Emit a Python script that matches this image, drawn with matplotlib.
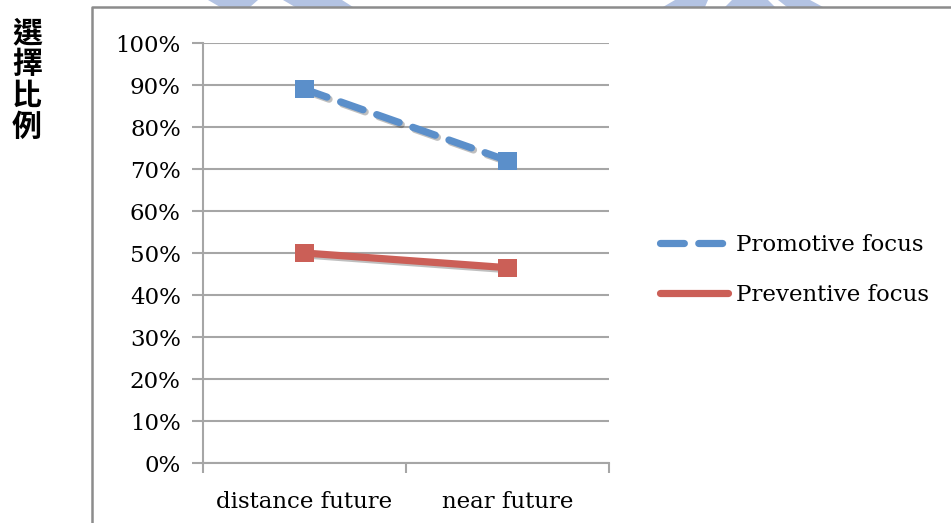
"""Choice ratio by temporal distance, promotive vs preventive focus."""

import matplotlib

matplotlib.use("Agg")
import matplotlib.pyplot as plt
from matplotlib.lines import Line2D
from matplotlib.patches import Polygon
import matplotlib.patheffects as pe

categories = ["distance future", "near future"]
promotive = [0.89, 0.72]
preventive = [0.50, 0.465]
series_labels = ["Promotive focus", "Preventive focus"]
y_ticks = [i / 10 for i in range(11)]
y_label = "選\n擇\n比\n例"

BLUE = "#5b8fca"
RED = "#cb5f57"
GRID = "#a6a6a6"
SERIF = ["DejaVu Serif"]

fig = plt.figure(figsize=(9.51, 5.23), dpi=100)
W, H = 951, 523

# faint watermark slivers at the very top edge
for pts in [
    [(208, 0), (258, 0), (250, 7), (220, 7)],
    [(283, 0), (342, 0), (353, 7), (295, 7)],
    [(675, 0), (708, 0), (705, 7), (663, 7)],
    [(732, 0), (768, 0), (775, 7), (725, 7)],
    [(778, 0), (810, 0), (823, 7), (787, 7)],
]:
    fig.patches.append(Polygon([(x / W, 1 - y / H) for x, y in pts],
                               closed=True, transform=fig.transFigure,
                               facecolor="#b3c3e3", edgecolor="none", zorder=0))

# outer chart frame (left and top edges)
fig.add_artist(Line2D([92 / W, 92 / W, 1.0], [0.0, 1 - 6.5 / H, 1 - 6.5 / H],
                      transform=fig.transFigure, color="#8c8c8c", lw=1.8,
                      zorder=2))

ax = fig.add_axes([203 / W, 60 / H, 406 / W, 420 / H])
x = list(range(len(categories)))
shadow = [pe.SimpleLineShadow(offset=(1.5, -1.5), alpha=0.25), pe.Normal()]
ax.plot(x, promotive, color=BLUE, lw=5.2, dashes=(3.3, 2.0),
        dash_capstyle="round", marker="s", markersize=13,
        markeredgewidth=0, label=series_labels[0], zorder=3,
        path_effects=shadow)
ax.plot(x, preventive, color=RED, lw=5.2, solid_capstyle="round",
        marker="s", markersize=13, markeredgewidth=0,
        label=series_labels[1], zorder=3, path_effects=shadow)

ax.set_xlim(-0.5, len(categories) - 0.5)
ax.set_ylim(0, 1)
ax.set_yticks(y_ticks)
ax.set_yticklabels([f"{int(round(v * 100))}%" for v in y_ticks],
                   family=SERIF, fontsize=16.5)
ax.set_xticks(x)
ax.set_xticklabels(categories, family=SERIF, fontsize=16.5)
ax.set_xticks([-0.5, 0.5, 1.5], minor=True)
ax.tick_params(axis="x", which="major", length=0, pad=20)
ax.tick_params(axis="x", which="minor", length=7, width=1.5, color=GRID)
ax.tick_params(axis="y", length=8, width=1.5, color=GRID, pad=8)
ax.grid(axis="y", color=GRID, lw=1.5)
ax.set_axisbelow(True)
for side in ("top", "right"):
    ax.spines[side].set_visible(False)
for side in ("left", "bottom"):
    ax.spines[side].set_color(GRID)
    ax.spines[side].set_linewidth(1.5)

fig.text(27 / W, 1 - 80 / H, y_label, family=["Noto Sans CJK TC"],
         fontweight="bold", fontsize=21.5, ha="center", va="center",
         linespacing=1.05)

leg = fig.legend(loc="center left", bbox_to_anchor=(639 / W, 1 - 270 / H),
                 frameon=False, prop={"family": SERIF[0], "size": 16.5},
                 handlelength=3.0, handletextpad=0.35, labelspacing=1.25)
for h in leg.get_lines():
    h.set_marker("")
    h.set_path_effects([])

fig.savefig("out.png", dpi=100)
